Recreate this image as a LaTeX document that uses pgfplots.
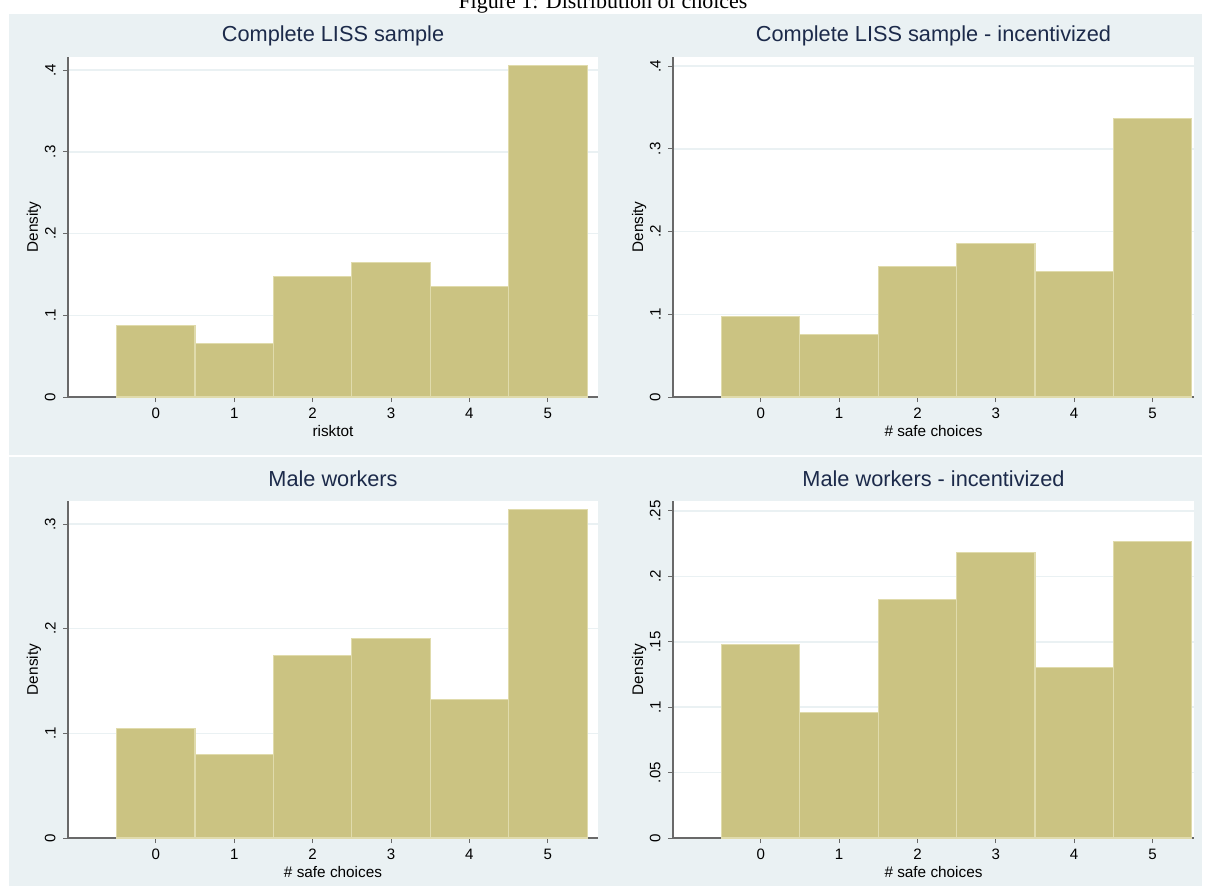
\documentclass[border=0pt]{standalone}
\usepackage{fontspec}
\setmainfont{Liberation Sans}
\newfontfamily\serifff{Liberation Serif}
\usepackage{pgfplots}
\pgfplotsset{compat=1.18}
\definecolor{panelbg}{RGB}{234,241,243}
\definecolor{barfill}{RGB}{203,195,130}
\definecolor{baredge}{RGB}{224,219,172}
\definecolor{gridc}{RGB}{234,241,243}
\definecolor{titlec}{RGB}{28,42,74}
\definecolor{axisc}{RGB}{105,105,105}

\pgfplotsset{
 stata/.style={
  scale only axis,
  axis background/.style={fill=white},
  axis x line*=bottom, axis y line*=left,
  axis line style={axisc, line width=0.9pt},
  tick align=outside,
  major tick length=3.75pt,
  tick style={axisc, line width=0.75pt},
  xmin=-1.12, ymin=0,
  xtick={0,1,2,3,4,5},
  xticklabels={0,1,2,3,4,5},
  ymajorgrids,
  grid style={gridc, line width=1.1pt},
  title style={at={(0.5,1)}, anchor=base, yshift=5.25pt, font=\fontsize{16.3}{19}\selectfont, color=titlec, inner sep=0pt},
  tick label style={font=\fontsize{11.3}{13}\selectfont, inner sep=0pt},
  xticklabel style={anchor=base},
  xticklabel shift=12.6pt,
  yticklabel style={rotate=90, anchor=south},
  yticklabel shift=5.4pt,
  every axis x label/.style={at={(axis description cs:0.5,0)}, yshift=-29.25pt, anchor=base, inner sep=0pt, font=\fontsize{11.5}{13}\selectfont},
  every axis y label/.style={at={(axis description cs:0,0.5)}, xshift=-22.5pt, rotate=90, anchor=base, inner sep=0pt, font=\fontsize{11.5}{13}\selectfont},
 },
 bars/.style={ybar, bar width=1, bar shift=0pt, fill=barfill, draw=baredge, line width=0.8pt},
}

\begin{document}
\begin{tikzpicture}
\path[use as bounding box] (0,0) rectangle (903.75pt,-668.25pt);
\fill[white] (0,0) rectangle (903.75pt,-668.25pt);
\fill[panelbg] (6.75pt,-10.5pt) rectangle (901.5pt,-341.25pt);
\fill[panelbg] (6.75pt,-342.75pt) rectangle (901.5pt,-664.5pt);
\node[font=\serifff\fontsize{16.5}{19}\selectfont, anchor=base, inner sep=0pt] at (452.25pt,-6.5pt) {Figure 1: Distribution of choices};

\begin{axis}[stata, at={(51pt,-297.75pt)}, anchor=south west, width=397.5pt, height=255pt,
  xmax=5.64, ymax=0.416,
  ytick={0,0.1,0.2,0.3,0.4}, yticklabels={0,.1,.2,.3,.4},
  title={Complete LISS sample}, xlabel={risktot}, ylabel={Density}]
\addplot[bars] coordinates {(0,0.088) (1,0.065) (2,0.147) (3,0.165) (4,0.135) (5,0.406)};
\end{axis}

\begin{axis}[stata, at={(504.75pt,-297.75pt)}, anchor=south west, width=390.75pt, height=255pt,
  xmax=5.53, ymax=0.411,
  ytick={0,0.1,0.2,0.3,0.4}, yticklabels={0,.1,.2,.3,.4},
  title={Complete LISS sample - incentivized}, xlabel={\# safe choices}, ylabel={Density}]
\addplot[bars] coordinates {(0,0.097) (1,0.076) (2,0.158) (3,0.185) (4,0.152) (5,0.337)};
\end{axis}

\begin{axis}[stata, at={(51pt,-628.5pt)}, anchor=south west, width=397.5pt, height=252.75pt,
  xmax=5.64, ymax=0.322,
  ytick={0,0.1,0.2,0.3}, yticklabels={0,.1,.2,.3},
  title={Male workers}, xlabel={\# safe choices}, ylabel={Density}]
\addplot[bars] coordinates {(0,0.105) (1,0.080) (2,0.174) (3,0.191) (4,0.132) (5,0.314)};
\end{axis}

\begin{axis}[stata, at={(504.75pt,-628.5pt)}, anchor=south west, width=390.75pt, height=252.75pt,
  xmax=5.53, ymax=0.2576,
  ytick={0,0.05,0.1,0.15,0.2,0.25}, yticklabels={0,.05,.1,.15,.2,.25},
  title={Male workers - incentivized}, xlabel={\# safe choices}, ylabel={Density}]
\addplot[bars] coordinates {(0,0.148) (1,0.096) (2,0.182) (3,0.218) (4,0.130) (5,0.227)};
\end{axis}
\end{tikzpicture}
\end{document}
